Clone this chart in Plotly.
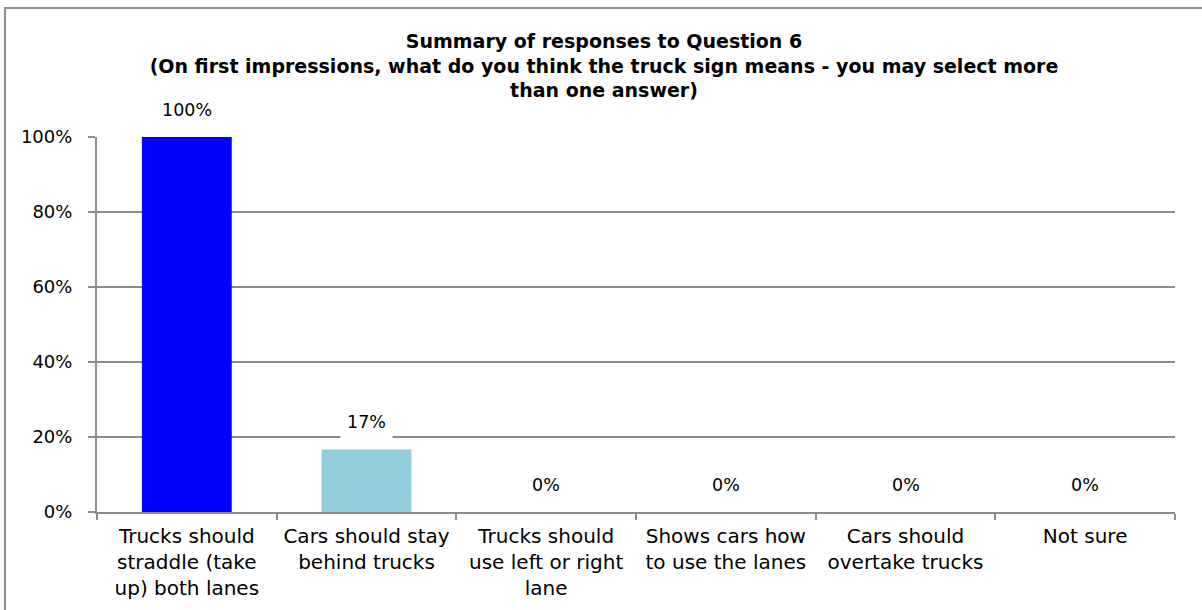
import plotly.graph_objects as go

categories = [
    "Trucks should<br>straddle (take<br>up) both lanes",
    "Cars should stay<br>behind trucks",
    "Trucks should<br>use left or right<br>lane",
    "Shows cars how<br>to use the lanes",
    "Cars should<br>overtake trucks",
    "Not sure",
]
values = [1.0, 0.1667, 0.0, 0.0, 0.0, 0.0]
labels = ["100%", "17%", "0%", "0%", "0%", "0%"]
bar_colors = ["#0000FF", "#92CDDC", "#92CDDC", "#92CDDC", "#92CDDC", "#92CDDC"]
y_ticks = [0, 0.2, 0.4, 0.6, 0.8, 1.0]
y_tick_text = ["0%", "20%", "40%", "60%", "80%", "100%"]

title_text = ("Summary of responses to Question 6<br>(On first impressions, what do you think the truck sign means - you may select more<br>than one answer)")

fig = go.Figure()
fig.add_trace(go.Bar(
    x=categories, y=values, marker=dict(color=bar_colors, line=dict(width=0)),
    width=0.5, hoverinfo="skip",
))

for c, v, t in zip(categories, values, labels):
    fig.add_annotation(x=c, y=v, text=t, showarrow=False, yanchor="bottom", yshift=10,
                       bgcolor="white", borderpad=6,
                       font=dict(family="DejaVu Sans", size=17.5, color="#000000"))

L, R, T, B = 97, 27, 137, 98
W, H = 1202, 610
pw, ph = W - L - R, H - T - B
fig.add_shape(type="rect", xref="paper", yref="paper",
              x0=(5 - L) / pw, x1=(1215 - L) / pw,
              y0=-(625 - (H - B)) / ph, y1=1 + (T - 8) / ph,
              line=dict(color="#8c8c8c", width=2), fillcolor="rgba(0,0,0,0)", layer="below")

fig.update_layout(
    width=W, height=H,
    margin=dict(l=L, r=R, t=T, b=B, autoexpand=False),
    paper_bgcolor="white", plot_bgcolor="white",
    showlegend=False,
    title=dict(text="<b>" + title_text + "</b>", x=604 / W, xanchor="center",
               yref="container", y=1 - 48 / H, yanchor="top",
               font=dict(family="DejaVu Sans", size=19, color="#000000")),
    font=dict(family="DejaVu Sans", size=17, color="#000000"),
)
fig.update_xaxes(
    type="category", showline=True, linecolor="#8c8c8c", linewidth=2,
    ticks="outside", tickson="boundaries", ticklen=6, tickcolor="#8c8c8c", tickwidth=2,
    showgrid=False, tickfont=dict(family="DejaVu Sans", size=20), automargin=False,
    ticklabelstandoff=5,
)
fig.update_yaxes(
    range=[0, 1], tickvals=y_ticks, ticktext=y_tick_text,
    showline=True, linecolor="#8c8c8c", linewidth=2,
    ticks="outside", ticklen=7, tickcolor="#8c8c8c", tickwidth=2,
    showgrid=True, gridcolor="#8c8c8c", gridwidth=1.5, zeroline=False,
    ticklabelstandoff=12, automargin=False,
    tickfont=dict(family="DejaVu Sans", size=18),
)

fig.write_html("out.html", config={"displayModeBar": False},
               post_script="document.body.style.margin='0';document.body.style.overflow='hidden';")
